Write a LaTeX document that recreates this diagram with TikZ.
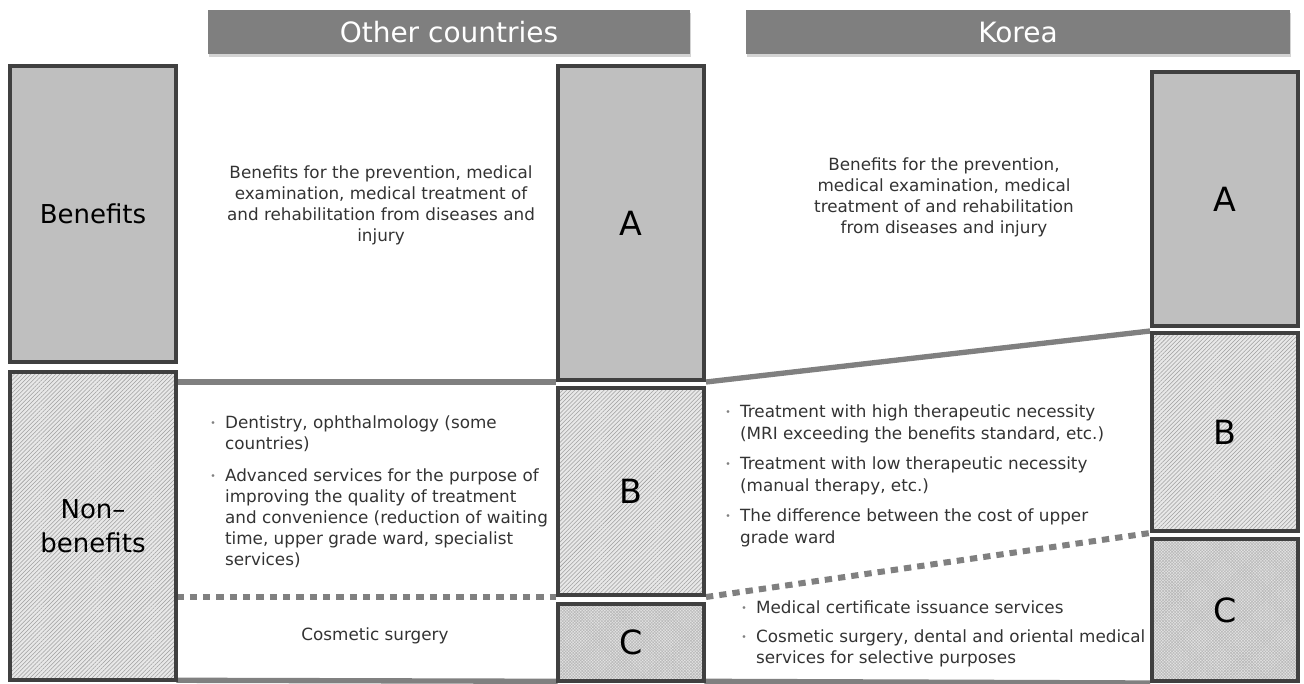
\documentclass[tikz,border=0pt]{standalone}
\usepackage{fontspec}
\setmainfont{DejaVu Sans}
\usetikzlibrary{patterns.meta,shadows,backgrounds,calc}
\definecolor{boxline}{HTML}{404040}
\definecolor{boxfill}{HTML}{BFBFBF}
\definecolor{headfill}{HTML}{7F7F7F}
\definecolor{linegray}{HTML}{808080}
\definecolor{txt}{HTML}{333333}
\newcommand{\bul}{\raisebox{1.5pt}{\color{gray}\fontsize{7}{7}\selectfont •}}
\begin{document}
\begin{tikzpicture}[x=0.75pt,y=-0.75pt,
  basebox/.style={draw=boxline, line width=3pt, minimum width=109.5pt, inner sep=0pt,
    font=\fontsize{25}{30}\selectfont,
    drop shadow={shadow xshift=1.5pt,shadow yshift=-1.5pt,opacity=0.3}},
  solidbox/.style={basebox, fill=boxfill},
  hatchbox/.style={basebox, preaction={fill=gray!18},
    pattern={Lines[angle=45,distance=2.2pt,line width=0.4pt]}, pattern color=gray!75},
  dotbox/.style={basebox, preaction={fill=gray!20},
    pattern={Hatch[angle=45,distance=1.6pt,line width=0.45pt]}, pattern color=gray!55},
  head/.style={fill=headfill, minimum height=33pt, inner sep=0pt, text=white,
    font=\fontsize{21}{25}\selectfont,
    drop shadow={shadow xshift=1pt,shadow yshift=-2.5pt,opacity=0.35}},
  gline/.style={draw=linegray, line width=4pt},
  dline/.style={draw=linegray, line width=4.5pt, dash pattern=on 5.5pt off 4.5pt},
  txtn/.style={text=txt, font=\fontsize{12.6}{15.75}\selectfont, inner sep=0pt}
]
\useasboundingbox (0,0) rectangle (1304,683);

% headers
\node[head, minimum width=361.5pt] (hO) at (449,32) {Other countries};
\node[head, minimum width=408pt] (hK) at (1018,32) {Korea};

% left column
\node[solidbox, minimum width=124.5pt, minimum height=222pt,
  font=\fontsize{19.5}{25.5}\selectfont] (lben) at (93,214) {Benefits};
\node[hatchbox, minimum width=124.5pt, minimum height=231pt, align=center,
  font=\fontsize{19.5}{25.5}\selectfont] (lnon) at (93,526) {Non–\\benefits};

% other countries boxes
\node[solidbox, minimum height=235.5pt] (oA) at (631,223) {A};
\node[hatchbox, minimum height=155.25pt] (oB) at (631,491.5) {B};
\node[dotbox, minimum height=57.75pt] (oC) at (631,642.5) {C};

% korea boxes
\node[solidbox, minimum height=190.5pt] (kA) at (1225,199) {A};
\node[hatchbox, minimum height=148.5pt] (kB) at (1225,432) {B};
\node[dotbox, minimum height=106.5pt] (kC) at (1225,610) {C};

% connecting lines
\begin{scope}[on background layer]
\draw[gline] (lnon.east |- oA.south) -- (oA.south west);
\draw[gline] (oA.south east) -- (kB.north west);
\draw[dline] (lnon.east |- oB.south) -- (oB.south west);
\draw[dline] (oB.south east) -- (kB.south west);
\draw[gline] (lnon.south east) -- (oC.south west);
\draw[gline] (oC.south east) -- (kC.south west);
\end{scope}

% texts
\node[txtn, align=center, anchor=north] (oBen) at (381,165)
  {Benefits for the prevention, medical\\examination, medical treatment of\\and rehabilitation from diseases and\\injury};
\node[txtn, align=center, anchor=north] (kBen) at (944,157)
  {Benefits for the prevention,\\medical examination, medical\\treatment of and rehabilitation\\from diseases and injury};

\node[txtn, anchor=north west] (oList) at (210,414) {%
  \begin{tabular}{@{}l@{\hspace{7pt}}l@{}}
  \bul & Dentistry, ophthalmology (some\\
       & countries)\\[8pt]
  \bul & Advanced services for the purpose of\\
       & improving the quality of treatment\\
       & and convenience (reduction of waiting\\
       & time, upper grade ward, specialist\\
       & services)
  \end{tabular}};

\node[txtn, anchor=north west] (kList) at (725,402) {%
  \renewcommand{\arraystretch}{1.05}%
  \begin{tabular}{@{}l@{\hspace{7pt}}l@{}}
  \bul & Treatment with high therapeutic necessity\\
       & (MRI exceeding the benefits standard, etc.)\\[6pt]
  \bul & Treatment with low therapeutic necessity\\
       & (manual therapy, etc.)\\[6pt]
  \bul & The difference between the cost of upper\\
       & grade ward
  \end{tabular}};

\node[txtn, anchor=north west] (kList2) at (741,599) {%
  \begin{tabular}{@{}l@{\hspace{7pt}}l@{}}
  \bul & Medical certificate issuance services\\[6pt]
  \bul & Cosmetic surgery, dental and oriental medical\\
       & services for selective purposes
  \end{tabular}};

\node[txtn] (oCos) at (375,636) {Cosmetic surgery};
\end{tikzpicture}
\end{document}
